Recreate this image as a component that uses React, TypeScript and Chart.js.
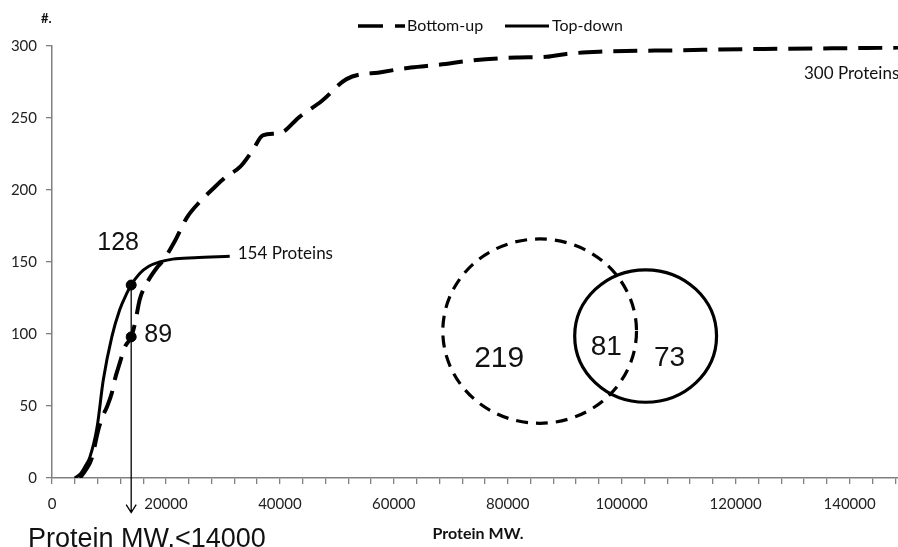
import React, { useEffect, useRef } from 'react';
import { Chart, registerables } from 'chart.js';
Chart.register(...registerables);

// Bottom-up (dashed) cumulative protein count vs MW
const bottomUpMW = [4900, 6000, 7000, 8100, 8800, 9600, 10500, 11000, 11900, 12800, 13900, 14600, 15400, 16600, 18400, 19500, 21500, 23700, 26000, 28300, 30500, 33000, 35300, 37000, 40000, 43500, 47400, 51700, 58000, 63000, 68000, 73900, 81500, 86800, 90300, 96000, 110000, 125000, 143000, 150000];
const bottomUpCount = [0, 6, 14, 33, 42, 49, 59, 68, 80, 91, 98, 108, 124, 135, 146, 151, 164, 181, 192, 201, 209, 216, 228, 238, 239.5, 251, 262, 277, 282, 285, 287, 290, 292, 292.5, 294.5, 296, 297, 298, 298.6, 299];

// Top-down (solid)
const topDownMW = [4000, 5000, 5800, 6650, 7900, 9000, 10500, 11900, 13100, 13900, 15400, 17000, 18900, 21200, 25000, 31200];
const topDownCount = [0, 3, 8, 14.5, 35, 68, 98, 117, 128, 134, 142, 147, 150, 152, 153, 154];

// Markers at MW 14000
const markerMW = [13900, 13900];
const markerCount = [134, 98];
const markerLabels = ['128', '89'];

// Series labels
const seriesNames = ['Bottom-up', 'Top-down'];
const endLabels = ['300 Proteins', '154 Proteins'];

// Venn inset (in data units)
const vennCounts = ['219', '81', '73'];
const vennCenterMW = [85600, 104200];
const vennCenterCount = [102, 98.6];
const vennRadiusMW = [17000, 12450];
const vennRadiusCount = [64, 46];

const yTicks = [0, 50, 100, 150, 200, 250, 300];
const xMax = 148500;

const LABEL_FONT = 'Lato, "Open Sans", sans-serif';
const ARIAL = '"Liberation Sans", Arial, sans-serif';

const overlayPlugin = {
  id: 'overlay',
  afterDatasetsDraw(chart: any) {
    const ctx = chart.ctx as CanvasRenderingContext2D;
    const xs = chart.scales.x;
    const ys = chart.scales.y;
    const px = (v: number) => xs.getPixelForValue(v);
    const py = (v: number) => ys.getPixelForValue(v);
    ctx.save();

    // Arrow from top marker down past the axis
    const ax = px(markerMW[0]);
    const aTop = py(markerCount[0]);
    const aBot = py(-24);
    ctx.strokeStyle = '#000';
    ctx.lineWidth = 1.3;
    ctx.setLineDash([]);
    ctx.beginPath();
    ctx.moveTo(ax, aTop);
    ctx.lineTo(ax, aBot);
    ctx.moveTo(ax - 5, aBot - 8);
    ctx.lineTo(ax, aBot);
    ctx.lineTo(ax + 5, aBot - 8);
    ctx.stroke();

    // Marker labels
    ctx.fillStyle = '#111';
    ctx.font = `25px ${ARIAL}`;
    ctx.textBaseline = 'middle';
    ctx.textAlign = 'center';
    ctx.fillText(markerLabels[0], px(11600), py(163));
    ctx.textAlign = 'left';
    ctx.fillText(markerLabels[1], px(16200), py(99));

    // End labels
    ctx.font = `17px ${LABEL_FONT}`;
    ctx.fillText(endLabels[0], px(132000), py(281));
    ctx.fillText(endLabels[1], px(32600), py(156));

    // Venn
    ctx.lineWidth = 3.2;
    for (let i = 0; i < vennCenterMW.length; i++) {
      const cx = px(vennCenterMW[i]);
      const cy = py(vennCenterCount[i]);
      const rx = px(vennCenterMW[i] + vennRadiusMW[i]) - cx;
      const ry = cy - py(vennCenterCount[i] + vennRadiusCount[i]);
      ctx.setLineDash(i === 0 ? [12, 8] : []);
      ctx.beginPath();
      ctx.ellipse(cx, cy, rx, ry, 0, 0, Math.PI * 2);
      ctx.stroke();
    }
    ctx.setLineDash([]);
    ctx.textAlign = 'center';
    ctx.font = `30px ${ARIAL}`;
    ctx.fillText(vennCounts[0], px(78500), py(83));
    ctx.font = `28px ${ARIAL}`;
    ctx.fillText(vennCounts[1], px(97300), py(91));
    ctx.fillText(vennCounts[2], px(108400), py(83));

    // Legend
    const ly = 26;
    ctx.lineWidth = 3.5;
    ctx.setLineDash([25, 12]);
    ctx.beginPath();
    ctx.moveTo(358, ly);
    ctx.lineTo(405, ly);
    ctx.stroke();
    ctx.setLineDash([]);
    ctx.lineWidth = 3;
    ctx.beginPath();
    ctx.moveTo(505, ly);
    ctx.lineTo(549, ly);
    ctx.stroke();
    ctx.font = `16px ${LABEL_FONT}`;
    ctx.textAlign = 'left';
    ctx.fillText(seriesNames[0], 407, ly);
    ctx.fillText(seriesNames[1], 552, ly);

    // Axis captions
    ctx.font = `bold 13px ${LABEL_FONT}`;
    ctx.fillText('#.', 41, 19);
    ctx.font = `bold 16px ${LABEL_FONT}`;
    ctx.textAlign = 'center';
    ctx.fillText('Protein MW.', 478, 534);
    ctx.font = `27px ${ARIAL}`;
    ctx.textAlign = 'left';
    ctx.textBaseline = 'alphabetic';
    ctx.fillText('Protein MW.<14000', 28, 547);

    ctx.restore();
  },
};

export default function App() {
  const ref = useRef<HTMLCanvasElement>(null);
  useEffect(() => {
    if (!ref.current) return;
    const chart = new Chart(ref.current, {
      type: 'scatter',
      data: {
        datasets: [
          {
            label: seriesNames[0],
            data: bottomUpMW.map((x, i) => ({ x, y: bottomUpCount[i] })),
            showLine: true,
            borderColor: '#000',
            borderWidth: 4,
            borderDash: [24, 11],
            pointRadius: 0,
            cubicInterpolationMode: 'monotone',
          },
          {
            label: seriesNames[1],
            data: topDownMW.map((x, i) => ({ x, y: topDownCount[i] })),
            showLine: true,
            borderColor: '#000',
            borderWidth: 3,
            pointRadius: 0,
            cubicInterpolationMode: 'monotone',
          },
          {
            label: 'markers',
            data: markerMW.map((x, i) => ({ x, y: markerCount[i] })),
            showLine: false,
            pointRadius: 5,
            backgroundColor: '#000',
            borderColor: '#000',
          },
        ],
      },
      options: {
        responsive: false,
        animation: false,
        layout: { autoPadding: false, padding: { top: 46, left: 0, right: 0, bottom: 0 } },
        plugins: { legend: { display: false }, tooltip: { enabled: false } },
        scales: {
          x: {
            type: 'linear',
            min: 0,
            max: xMax,
            afterBuildTicks: (scale: any) => {
              const t = [];
              for (let v = 0; v <= xMax; v += 4000) t.push({ value: v });
              scale.ticks = t;
            },
            afterFit: (scale: any) => {
              scale.height = 69;
              scale.paddingLeft = 0;
              scale.paddingRight = 0;
            },
            ticks: {
              autoSkip: false,
              maxRotation: 0,
              padding: 11,
              color: '#222',
              font: { family: LABEL_FONT, size: 15 },
              callback: (v: any) => (Number(v) % 20000 === 0 && Number(v) <= 140000 ? String(v) : ''),
            },
            grid: { drawOnChartArea: false, tickLength: 6, color: '#808080', lineWidth: 1.3 },
            border: { color: '#808080', width: 1.5 },
          },
          y: {
            type: 'linear',
            min: 0,
            max: 300,
            afterBuildTicks: (scale: any) => {
              scale.ticks = yTicks.map((value) => ({ value }));
            },
            afterFit: (scale: any) => {
              scale.width = 52;
              scale.paddingTop = 0;
              scale.paddingBottom = 0;
            },
            ticks: {
              padding: 9,
              color: '#222',
              font: { family: LABEL_FONT, size: 15 },
            },
            grid: { drawOnChartArea: false, tickLength: 6, color: '#808080', lineWidth: 1.3 },
            border: { color: '#808080', width: 1.5 },
          },
        },
      },
      plugins: [overlayPlugin],
    });
    return () => chart.destroy();
  }, []);
  return (
    <div style={{ position: 'fixed', left: 0, top: 0, width: 898, height: 547, overflow: 'hidden', background: '#fff' }}>
      <canvas ref={ref} width={898} height={547} />
    </div>
  );
}
